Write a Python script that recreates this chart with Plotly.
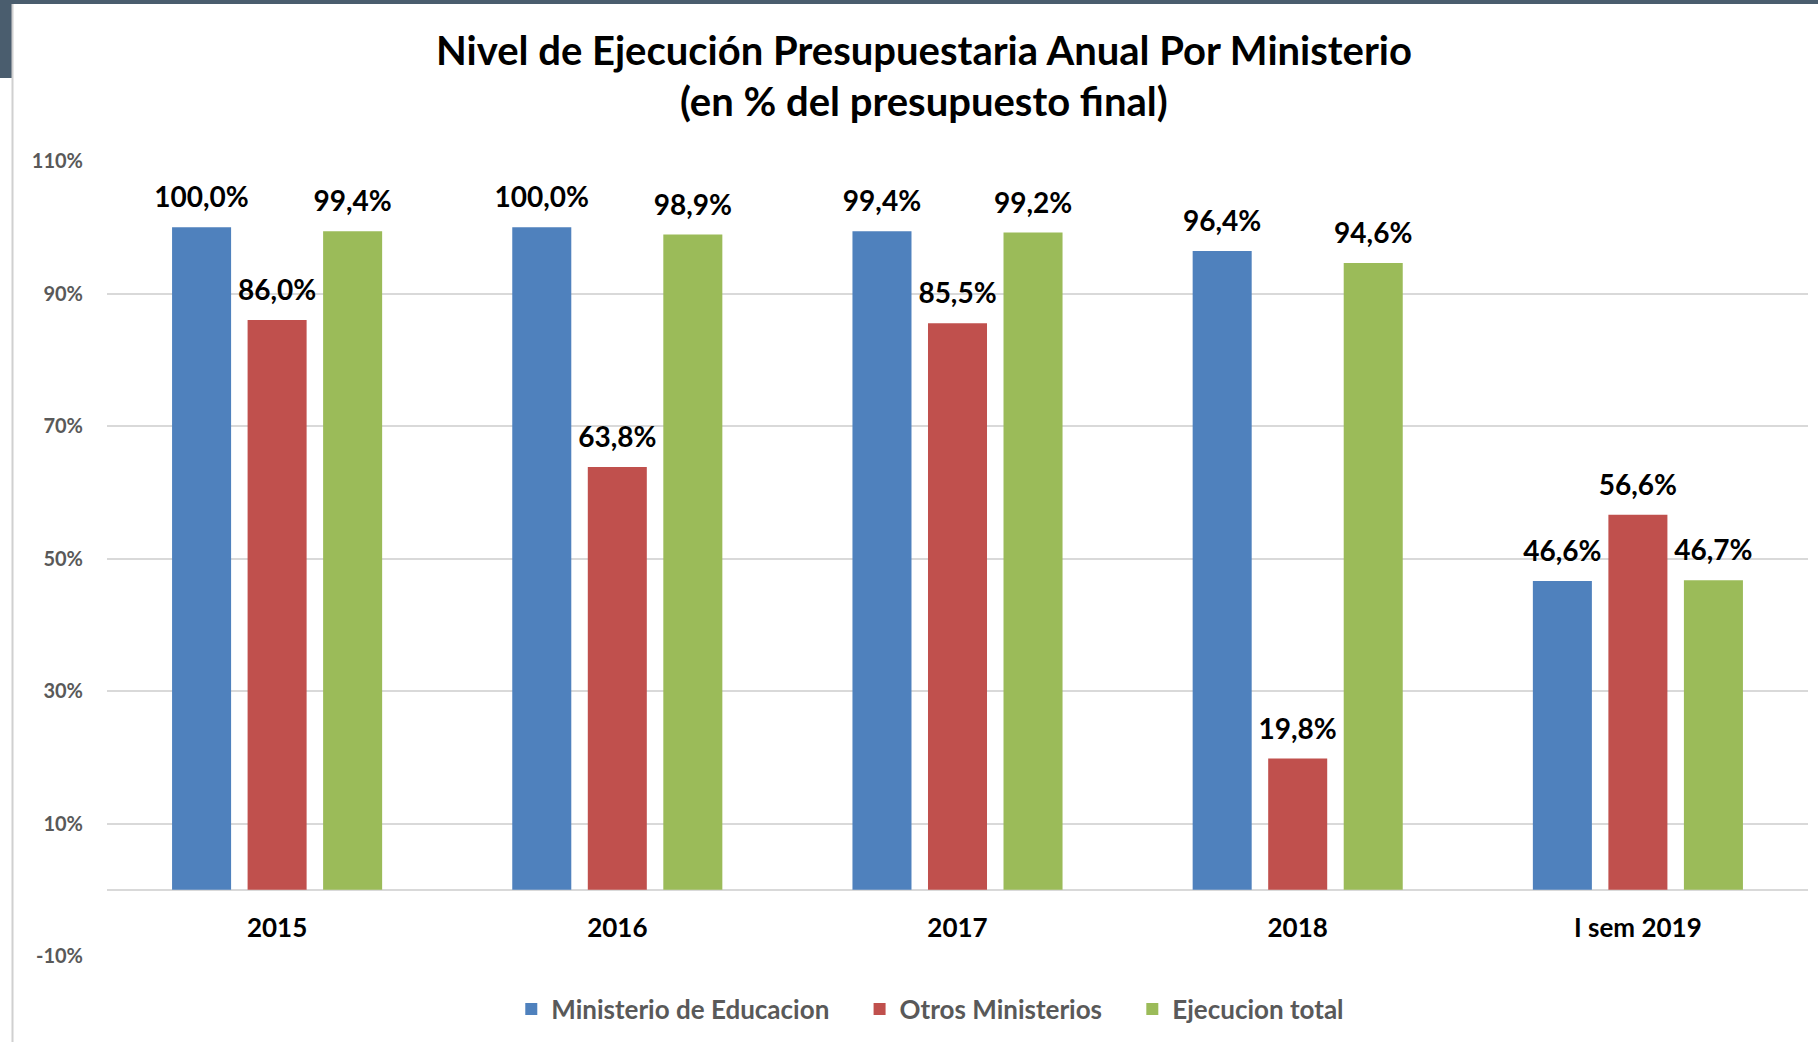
import plotly.graph_objects as go

categories = ["2015", "2016", "2017", "2018", "I sem 2019"]
educacion = [100.0, 100.0, 99.4, 96.4, 46.6]
otros = [86.0, 63.8, 85.5, 19.8, 56.6]
total = [99.4, 98.9, 99.2, 94.6, 46.7]
series_names = ["Ministerio de Educacion", "Otros Ministerios", "Ejecucion total"]
series_values = [educacion, otros, total]
colors = ["#4F81BD", "#C0504D", "#9BBB59"]
y_ticks = [-10, 10, 30, 50, 70, 90, 110]
y_tick_labels = [f"{v}%" for v in y_ticks]

FONT = "Lato"
W, H = 1818, 1042
L, R, T, B = 107, 10, 161, 86
BARGAP = 0.334
PW, PH = W - L - R, H - T - B

fig = go.Figure()
for i, (name, vals, col) in enumerate(zip(series_names, series_values, colors)):
    pad = "\u00a0" * 4 if i < len(series_names) - 1 else ""
    fig.add_trace(go.Bar(
        x=categories, y=vals, name=name + pad,
        marker=dict(color=col, line=dict(width=0)),
    ))
for name, vals in zip(series_names, series_values):
    fig.add_trace(go.Scatter(
        x=categories, y=vals, mode="markers+text",
        text=[f"{v:.1f}%".replace(".", ",") for v in vals],
        textposition="top center",
        textfont=dict(family=FONT, size=28, color="#000000", weight="bold"),
        marker=dict(size=19, opacity=0),
        showlegend=False, hoverinfo="skip", cliponaxis=False,
    ))

fig.update_layout(
    width=W, height=H,
    margin=dict(l=L, r=R, t=T, b=B, pad=0),
    paper_bgcolor="white", plot_bgcolor="white",
    barmode="group", bargap=BARGAP, bargroupgap=0.2185,
    scattermode="group", scattergap=BARGAP,
    showlegend=True,
    legend=dict(orientation="h", x=0.484, xanchor="center", y=-0.0667, yanchor="middle",
                font=dict(family=FONT, size=26, color="#595959", weight="bold"),
                itemwidth=30, traceorder="normal"),
    yaxis=dict(range=[-10, 110], tickvals=y_ticks, ticktext=y_tick_labels,
               showgrid=True, gridcolor="#D9D9D9", gridwidth=1.5,
               zeroline=True, zerolinecolor="#D9D9D9", zerolinewidth=2,
               showline=False, ticks="outside", ticklen=19, tickcolor="rgba(0,0,0,0)",
               tickfont=dict(family=FONT, size=20, color="#595959", weight="bold")),
    xaxis=dict(type="category", anchor="free", position=(0 - (-10)) / 120,
               showgrid=False, showline=False, zeroline=False,
               ticks="outside", ticklen=15, tickcolor="rgba(0,0,0,0)",
               tickfont=dict(family=FONT, size=26, color="#000000", weight="bold")),
    annotations=[
        dict(text="<b>Nivel de Ejecución Presupuestaria Anual Por Ministerio</b>",
             xref="paper", yref="paper", x=0.4803, y=1.1396, xanchor="center", yanchor="middle",
             showarrow=False, font=dict(family=FONT, size=40, color="#000000")),
        dict(text="<b>(en % del presupuesto final)</b>",
             xref="paper", yref="paper", x=0.4803, y=1.0755, xanchor="center", yanchor="middle",
             showarrow=False, font=dict(family=FONT, size=40, color="#000000")),
    ],
    shapes=[
        dict(type="rect", xref="paper", yref="paper", x0=-L / PW, x1=1 + R / PW,
             y0=1 + (T - 4) / PH, y1=1 + T / PH,
             fillcolor="#4A5D6E", line=dict(width=0), layer="above"),
        dict(type="rect", xref="paper", yref="paper", x0=-L / PW, x1=-(L - 12) / PW,
             y0=1 + (T - 78) / PH, y1=1 + T / PH,
             fillcolor="#4A5D6E", line=dict(width=0), layer="above"),
        dict(type="line", xref="paper", yref="paper", x0=-(L - 12.5) / PW, x1=-(L - 12.5) / PW,
             y0=-B / PH, y1=1 + (T - 4) / PH,
             line=dict(color="#D0D0D0", width=2), layer="above"),
    ],
)

fig.write_html("out.html", config={"displayModeBar": False},
               post_script="document.body.style.margin='0px';document.body.style.overflow='hidden';")
